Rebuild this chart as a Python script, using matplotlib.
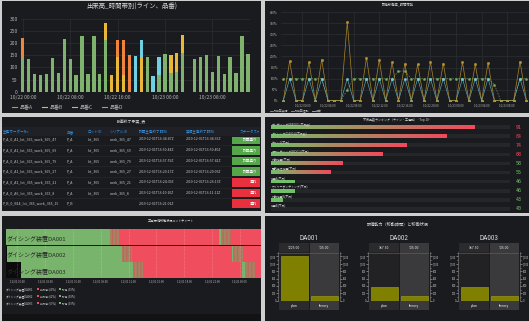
import numpy as np
import matplotlib
matplotlib.use('Agg')
import matplotlib.pyplot as plt
from matplotlib.patches import Rectangle
from matplotlib.lines import Line2D
from matplotlib.colors import LinearSegmentedColormap
from matplotlib.ticker import FuncFormatter, MultipleLocator
from matplotlib import font_manager

# ======================= DATA =======================
# Panel 1 : 出来高_時間帯別 (hourly, 10/22 00:00 -> 10/23 14:00)
p1_title = '出来高_時間帯別(ライン、品番)'
p1_hours = list(range(39))
p1_tick_pos = [0, 8, 16, 24, 32]
p1_tick_labels = ['10/22 00:00', '10/22 08:00', '10/22 16:00', '10/23 00:00', '10/23 08:00']
p1_names = ['品番A', '品番B', '品番C', '品番D']
p1_A = [145, 133, 73, 68, 75, 140, 78, 217, 135, 67, 228, 75, 230, 73, 215, 0, 0, 0, 0, 0,
        0, 143, 0, 70, 157, 78, 80, 158, 0, 135, 145, 152, 80, 148, 73, 143, 78, 228, 157]
p1_B = [0, 0, 0, 0, 0, 0, 0, 0, 0, 0, 0, 0, 0, 0, 70, 68, 145, 70, 0, 0,
        142, 0, 0, 0, 0, 72, 78, 77, 0, 0, 0, 0, 0, 0, 0, 0, 0, 0, 0]
p1_C = [0, 0, 0, 0, 0, 0, 0, 0, 0, 0, 0, 0, 0, 0, 0, 0, 0, 0, 0, 147,
        70, 0, 65, 73, 0, 0, 0, 0, 0, 0, 0, 0, 0, 0, 0, 0, 0, 0, 0]
p1_D = [77, 0, 0, 0, 0, 0, 0, 0, 0, 0, 0, 0, 0, 0, 0, 0, 68, 143, 150, 0,
        0, 0, 0, 0, 0, 0, 0, 0, 0, 0, 0, 0, 0, 0, 0, 0, 0, 0, 0]

# Panel 2 : 設備稼働率 (%)
p2_title = '設備稼働率_時間帯別'
p2_idx = list(range(39))
p2_yellow = [0, 180, 0, 0, 176, 0, 186, 0, 0, 0, 356, 0, 0, 194, 0, 186, 0, 174, 0, 168,
             0, 164, 0, 176, 0, 168, 0, 0, 173, 0, 164, 0, 170, 0, 0, 0, 0, 177, 0]
p2_cyan = [0, 100, 0, 0, 100, 0, 100, 0, 0, 0, 100, 0, 0, 100, 0, 100, 0, 100, 0, 100,
           0, 100, 0, 100, 0, 100, 0, 0, 100, 0, 100, 0, 100, 0, 0, 0, 0, 100, 0]
p2_green = [100, 100, 100, 100, 100, 100, 100, 0, 0, 0, 50, 100, 100, 100, 100, 100, 100, 100, 133, 135,
            100, 100, 100, 100, 100, 100, 100, 100, 100, 100, 100, 100, 100, 72, 0, 0, 0, 100, 100]
p2_tick_pos = [3, 7, 11, 15, 19, 23, 27, 31, 35]
p2_tick_labels = ['10/22 00:00', '10/22 04:00', '10/22 08:00', '10/22 12:00', '10/22 16:00',
                  '10/22 20:00', '10/23 00:00', '10/23 04:00', '10/23 08:00']
p2_legend = ['稼働率実績', '稼働率理論', '品質']

# Panel 3 : table
p3_title = '計画終了予実_表'
p3_columns = ['生産オーダーNo', '品番', 'ロットID', 'シリアルID', '計画生産終了時刻', '実績生産終了時刻', 'ステータス▾']
p3_order = ['P_A_0_A1_lot_365_work_365_47', 'P_A_0_A1_lot_365_work_365_69', 'P_A_0_A1_lot_365_work_365_79',
            'P_A_0_A1_lot_365_work_365_27', 'P_A_0_A2_lot_365_work_365_21', 'P_A_0_A6_lot_365_work_365_8',
            'P_B_0_B14_lot_365_work_365_15']
p3_part = ['P_A', 'P_A', 'P_A', 'P_A', 'P_A', 'P_A', 'P_B']
p3_lot = ['lot_365', 'lot_365', 'lot_365', 'lot_365', 'lot_365', 'lot_365', '']
p3_serial = ['work_365_47', 'work_365_69', 'work_365_79', 'work_365_27', 'work_365_21', 'work_365_8', '']
p3_plan_end = ['2019-12-01T16:34:47Z', '2019-12-01T16:50:44Z', '2019-12-01T16:57:59Z', '2019-12-01T16:20:17Z',
               '2019-12-01T16:24:39Z', '2019-12-01T16:10:10Z', '2019-12-01T16:21:01Z']
p3_act_end = ['2019-12-01T16:34:36Z', '2019-12-01T16:50:40Z', '2019-12-01T16:57:41Z', '2019-12-01T16:20:09Z',
              '2019-12-01T16:26:13Z', '2019-12-01T16:11:11Z', '']
p3_status = ['計画通り', '計画通り', '計画通り', '計画通り', '遅れ', '遅れ', '遅れ']

# Panel 4 : bar gauge
p4_title = '不良品数ランキング（ライン・工程別） - Top 10 -'
p4_labels = ['ボンディング(WB001)(不良数)', 'ダイシング(DA001)(不良数)', 'ライン1(不良)', 'モールディング(MD01)(不良)',
             '外観検査(不良)', '電気特性検査(不良)', '検査A(不良)', 'ワイヤーボンディング(不良)', '外観検査B(不良)', '検査B(不良)']
p4_values = [91, 84, 74, 68, 58, 55, 46, 46, 43, 40]
p4_min, p4_max, p4_threshold = 40, 100, 50

# Panel 5 : gantt (x in tick units)
p5_title = '工場/設備稼働状況ガントチャート'
p5_rows = ['ダイシング装置DA001', 'ダイシング装置DA002', 'ダイシング装置DA003']
p5_segments = [
    [(-0.42, 3.33, 'run'), (3.33, 3.67, 'mix'), (3.67, 7.27, 'stop'), (7.27, 7.33, 'run'), (7.33, 7.69, 'mix'), (7.69, 8.8, 'stop')],
    [(-0.42, -0.36, 'none'), (-0.36, 3.75, 'run'), (3.75, 4.11, 'mix'), (4.11, 7.71, 'stop'), (7.71, 7.77, 'run'), (7.77, 8.11, 'mix'), (8.11, 8.8, 'stop')],
    [(-0.42, 0.12, 'none'), (0.12, 4.17, 'run'), (4.17, 4.53, 'mix'), (4.53, 8.09, 'stop'), (8.09, 8.19, 'run'), (8.19, 8.55, 'mix'), (8.55, 8.8, 'stop')],
]
p5_tick_pos = [0, 1, 2, 3, 4, 5, 6, 7, 8]
p5_tick_labels = ['12/01 00:00', '12/01 03:00', '12/01 06:00', '12/01 09:00', '12/01 12:00',
                  '12/01 15:00', '12/01 18:00', '12/01 21:00', '12/02 00:00']
p5_stop_pct = [60, 62, 59]
p5_run_pct = [39, 38, 39]

# Panel 6 : plan vs theory
p6_title = '設備能力（稼動時間）と稼働状況'
p6_names = ['DA001', 'DA002', 'DA003']
p6_plan = [1225.00, 367.50, 367.50]
p6_theory = [135.00, 135.00, 135.00]
p6_cats = ['plan', 'theory']
p6_ref = 1300

# ======================= STYLE =======================
W, H = 529, 322
CJK = ['Noto Sans CJK JP', 'DejaVu Sans']
plt.rcParams['font.family'] = CJK
plt.rcParams['hatch.linewidth'] = 0.35
avail = {f.name for f in font_manager.fontManager.ttflist}
NARROW = None
for cand in ['Liberation Sans Narrow', 'Roboto Condensed', 'DejaVu Sans Condensed']:
    if cand in avail:
        NARROW = [cand, 'DejaVu Sans']
        break
if NARROW is None:
    NARROW = ['Liberation Sans', 'DejaVu Sans'] if 'Liberation Sans' in avail else CJK

BG = '#cfcfcf'
PANEL = '#1a1b1e'
TXT = '#d8d9da'
GRID = '#2e2f33'
TICK = '#b5b5b5'
GREEN = '#7eb26d'
YELLOW = '#eab839'
CYAN = '#6ed0e0'
ORANGE = '#ef843c'
GOLD = '#b8922a'

fig = plt.figure(figsize=(W / 100, H / 100), dpi=100)
fig.patch.set_facecolor(BG)


def fbox(x0, y0, x1, y1):
    return [x0 / W, 1 - y1 / H, (x1 - x0) / W, (y1 - y0) / H]


def prect(x0, y0, x1, y1, color, z=-10, **kw):
    fig.add_artist(Rectangle((x0 / W, 1 - y1 / H), (x1 - x0) / W, (y1 - y0) / H,
                             transform=fig.transFigure, facecolor=color, edgecolor='none', zorder=z, **kw))


def ptext(x, y, s, size, color=TXT, ha='left', va='center', **kw):
    fig.text(x / W, 1 - y / H, s, fontsize=size, color=color, ha=ha, va=va, **kw)


def pline(x0, y0, x1, y1, color, lw=0.5, **kw):
    fig.add_artist(Line2D([x0 / W, x1 / W], [1 - y0 / H, 1 - y1 / H], transform=fig.transFigure,
                          color=color, lw=lw, **kw))


# panel backgrounds
for box in [(2, 1, 261, 113), (265, 1, 529, 113), (2, 117, 261, 211),
            (265, 117, 529, 213), (2, 216, 261, 321), (265, 216, 529, 321)]:
    prect(*box, PANEL)

# ======================= PANEL 1 =======================
ptext(132, 7, p1_title, 4.6, TXT, ha='center')
ax1 = fig.add_axes(fbox(21, 19, 250, 91.7))
ax1.set_facecolor('none')
bottom = np.zeros(len(p1_hours))
for vals, col in zip([p1_A, p1_B, p1_C, p1_D], [GREEN, YELLOW, CYAN, ORANGE]):
    v = np.array(vals, float)
    ax1.bar(p1_hours, v, bottom=bottom, width=0.56, color=col, linewidth=0, zorder=3)
    bottom += v
ax1.set_xlim(-0.3, 38.35)
ax1.set_ylim(0, 300)
ax1.set_yticks(range(0, 301, 50))
ax1.set_xticks(p1_tick_pos)
ax1.set_xticklabels(p1_tick_labels)
ax1.grid(color=GRID, lw=0.5)
ax1.set_axisbelow(True)
for s in ax1.spines.values():
    s.set_visible(False)
ax1.tick_params(length=0, labelsize=3.6, colors=TICK, pad=2.4)
for k, (nm, col) in enumerate(zip(p1_names, [GREEN, YELLOW, CYAN, ORANGE])):
    x = 12 + 30 * k
    pline(x, 107.3, x + 5, 107.3, col, lw=0.8)
    ptext(x + 8, 107.3, nm, 3.6, TICK)

# ======================= PANEL 2 =======================
ptext(398, 4, p2_title, 2.4, TXT, ha='center')
ax2 = fig.add_axes(fbox(281, 12.3, 529, 100.7))
ax2.set_facecolor('none')
ax2.plot(p2_idx, p2_green, color=GREEN, lw=0.45, alpha=0.8, ls=(0, (2.5, 2.0)), marker='s', ms=0.9, zorder=3)
ax2.plot(p2_idx, p2_cyan, color=CYAN, lw=0.45, alpha=0.8, marker='s', ms=1.0, zorder=4)
ax2.plot(p2_idx, p2_yellow, color=GOLD, lw=0.5, alpha=0.9, marker='s', ms=1.0, zorder=5)
ax2.set_xlim(-0.36, 38.4)
ax2.set_ylim(0, 400)
ax2.set_yticks(range(0, 401, 50))
ax2.yaxis.set_major_formatter(FuncFormatter(lambda v, p: f'{int(v)}%'))
ax2.set_xticks(p2_tick_pos)
ax2.set_xticklabels(p2_tick_labels)
ax2.grid(color=GRID, lw=0.5)
ax2.set_axisbelow(True)
for s in ax2.spines.values():
    s.set_visible(False)
ax2.tick_params(length=0, labelsize=2.1, colors=TICK, pad=2.2)
for k, (nm, col) in enumerate(zip(p2_legend, [GOLD, GREEN, CYAN])):
    x = 270 + 21 * k
    pline(x, 111, x + 3, 111, col, lw=0.6)
    ptext(x + 4, 111, nm, 2.1, TICK)

# ======================= PANEL 3 =======================
ptext(131.5, 122, p3_title, 2.8, TXT, ha='center')
prect(2, 127.5, 261, 136.3, '#1f2126', z=-5)
col_x = [2.7, 66.7, 87.3, 110, 139.3, 186]
for cx, name in zip(col_x, p3_columns[:-1]):
    ptext(cx, 132, name, 2.6, '#3b8ed6')
ptext(260, 132, p3_columns[-1], 2.6, '#3b8ed6', ha='right')
row_y0, row_dy = 139.5, 10.7
for r in range(len(p3_order)):
    y = row_y0 + row_dy * r
    vals = [p3_order[r], p3_part[r], p3_lot[r], p3_serial[r], p3_plan_end[r], p3_act_end[r]]
    for cx, v in zip(col_x, vals):
        ptext(cx, y, v, 2.5, '#c8c9ca')
    top = max(y - 4.4, 136.6)
    bot = min(y + 4.4, 210)
    ccol = '#56a64b' if p3_status[r] == '計画通り' else '#e8303f'
    prect(231.7, top, 259.5, bot, ccol, z=-5)
    ptext(257, y, p3_status[r], 2.6, 'white', ha='right')
    if r < len(p3_order) - 1:
        pline(2, y + 5.35, 231, y + 5.35, '#2a2b2f', lw=0.4)

# ======================= PANEL 4 =======================
ptext(397, 119.5, p4_title, 2.2, TXT, ha='center')
ax4 = fig.add_axes(fbox(271, 120, 510, 213))
ax4.set_facecolor('none')
ax4.set_xlim(p4_min, p4_max)
ax4.set_ylim(213, 120)
ax4.axis('off')
cmap = LinearSegmentedColormap.from_list('gr', ['#73bf69', '#f2495c'])
grad = np.linspace(0, 1, 256).reshape(1, -1)
for k, (lab, v) in enumerate(zip(p4_labels, p4_values)):
    y = 127.3 + 9.05 * k
    ax4.barh(y, p4_max - p4_min, left=p4_min, height=3.8, color='#25262a', lw=0, zorder=1)
    if v > p4_threshold:
        ax4.imshow(grad, cmap=cmap, aspect='auto', extent=(p4_min, v, y + 1.9, y - 1.9),
                   interpolation='bilinear', zorder=2)
    elif v > p4_min:
        ax4.barh(y, v - p4_min, left=p4_min, height=3.8, color='#73bf69', lw=0, zorder=2)
    ax4.text(p4_min + 0.1, y - 3.4, lab, fontsize=2.1, color='#c8c9ca', va='center', ha='left')
    vc = '#f2495c' if v > 60 else '#73bf69'
    ptext(519, y, f'{v}', 3.6, vc, ha='center', family=['DejaVu Sans Mono'])
ax4.set_ylim(213, 120)

# ======================= PANEL 5 =======================
ptext(171, 220.7, p5_title, 2.2, TXT, ha='center')
ax5 = fig.add_axes(fbox(5.7, 229, 260.6, 278.3))
ax5.set_facecolor('none')
colors5 = {'run': '#79b46c', 'stop': '#f04e5e', 'mix': '#c66058', 'none': '#0b0b0c'}
for r, segs in enumerate(p5_segments):
    for (a, b, st) in segs:
        if st == 'mix':
            ax5.barh(r, b - a, left=a, height=0.96, color=colors5[st], edgecolor='#86a86f',
                     hatch='|' * 12, lw=0, zorder=2)
        else:
            ax5.barh(r, b - a, left=a, height=0.96, color=colors5[st], lw=0, zorder=2)
    ax5.text(-0.37, r + 0.05, p5_rows[r], fontsize=4.3, color='#2a2a2a', va='center', ha='left', zorder=5)
ax5.set_xlim(-0.42, 8.75)
ax5.set_ylim(2.5, -0.5)
ax5.set_yticks([])
ax5.set_xticks(p5_tick_pos)
ax5.set_xticklabels(p5_tick_labels)
ax5.grid(axis='x', color='white', ls=(0, (1, 1.5)), lw=0.4, alpha=0.45, zorder=4)
ax5.set_axisbelow(False)
for s in ax5.spines.values():
    s.set_visible(False)
ax5.tick_params(length=0, labelsize=2.0, colors=TICK, pad=1.2)
for r in range(3):
    y = 289.3 + 7 * r
    ptext(6, y, p5_rows[r], 2.0, '#c8c9ca')
    prect(37.3, y - 1.1, 39.3, y + 1.1, '#f04e5e', z=5)
    ptext(40.0, y, f'非稼働 ({p5_stop_pct[r]}%)', 1.9, '#c8c9ca')
    prect(58.8, y - 1.1, 60.8, y + 1.1, '#79b46c', z=5)
    ptext(61.5, y, f'稼働 ({p5_run_pct[r]}%)', 1.9, '#c8c9ca')
prect(2, 314, 261, 321, '#121214', z=-5)

# ======================= PANEL 6 =======================
ptext(398, 224, p6_title, 3.0, TXT, ha='center')
for k in range(3):
    x0 = 279.3 + 90 * k
    x1 = x0 + 59.7
    xm = (x0 + x1) / 2
    ptext(xm, 238.3, p6_names[k], 5.2, TXT, ha='center', family=NARROW)
    prect(x0, 243.3, xm - 0.5, 251.7, '#2b2b2e', z=-5)
    prect(xm + 0.5, 243.3, x1, 251.7, '#3a3a3d', z=-5)
    prect(x0, 300.9, xm - 0.5, 310, '#2b2b2e', z=-5)
    prect(xm + 0.5, 300.9, x1, 310, '#3a3a3d', z=-5)
    ptext((x0 + xm) / 2, 247.6, f'{p6_plan[k]:.2f}', 2.8, TXT, ha='center', family=NARROW)
    ptext((xm + x1) / 2, 247.6, f'{p6_theory[k]:.2f}', 2.8, TXT, ha='center', family=NARROW)
    ptext((x0 + xm) / 2, 305.6, p6_cats[0], 3.0, TXT, ha='center', family=NARROW)
    ptext((xm + x1) / 2, 305.6, p6_cats[1], 3.0, TXT, ha='center', family=NARROW)
    ax = fig.add_axes(fbox(x0, 251.7, x1, 300.7))
    ax.set_facecolor('none')
    ax.set_xlim(0, 2)
    ax.set_ylim(0, 1330)
    ax.axvspan(0, 0.985, color='#222225', lw=0, zorder=0)
    ax.axvspan(1.015, 2, color='#3a3a3d', lw=0, zorder=0)
    ax.axhline(p6_ref, color='#6d6d1e', lw=0.4, zorder=1)
    ax.bar([0.5, 1.5], [p6_plan[k], p6_theory[k]], width=0.9, color='#7f7f00',
           edgecolor='#a5a51c', lw=0.4, zorder=2)
    ax.set_xticks([])
    ax.set_yticks(range(0, 1201, 200))
    ax.yaxis.set_minor_locator(MultipleLocator(100))
    ax.yaxis.set_major_formatter(FuncFormatter(lambda v, p: f'{int(v):,}'))
    for side in ['top', 'bottom']:
        ax.spines[side].set_visible(False)
    for side in ['left', 'right']:
        ax.spines[side].set_color('#8a8a8a')
        ax.spines[side].set_linewidth(0.4)
        ax.spines[side].set_position(('outward', 0.7))
    ax.tick_params(axis='y', which='both', left=True, right=True, labelleft=True, labelright=True,
                   labelsize=2.1, colors='#bdbdbd', width=0.4, pad=0.4)
    ax.tick_params(axis='y', which='major', length=1.4)
    ax.tick_params(axis='y', which='minor', length=0.8)
    for t in ax.get_yticklabels():
        t.set_family(NARROW)

fig.savefig('out.png', dpi=100, facecolor=BG)
